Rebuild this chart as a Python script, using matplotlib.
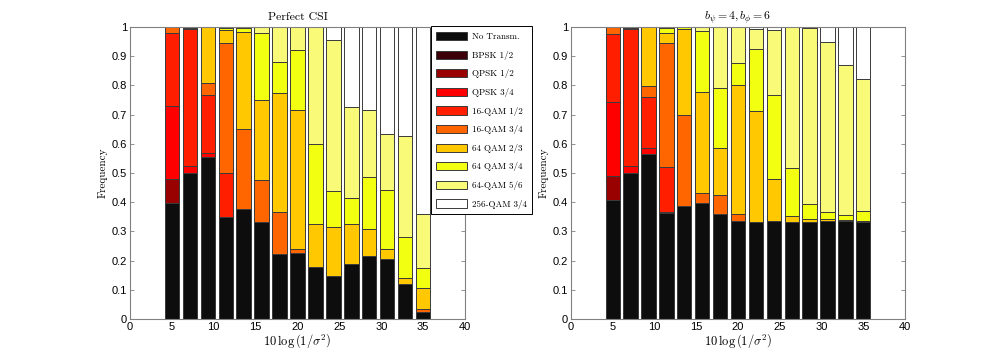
import numpy as np
import matplotlib
matplotlib.use('Agg')
import matplotlib.pyplot as plt
from matplotlib.patches import Patch

# SNR points (dB) and legend
snr = np.linspace(5, 35, 15)
schemes = ['No Transm.', 'BPSK 1/2', 'QPSK 1/2', 'QPSK 3/4', '16-QAM 1/2', '16-QAM 3/4',
           '64 QAM 2/3', '64 QAM 3/4', '64-QAM 5/6', '256-QAM 3/4']
colors = ['#0d0d0d', '#3b0008', '#990000', '#ff0000', '#ff1f00', '#ff6600',
          '#ffc800', '#f2ff10', '#f8fa78', '#ffffff']

# ---- Perfect CSI: fraction of each scheme per SNR point ----
pc_none = [0.398, 0.501, 0.554, 0.350, 0.378, 0.331, 0.223, 0.225, 0.177, 0.148, 0.188, 0.217, 0.205, 0.120, 0.025]
pc_bpsk12 = [0] * 15
pc_qpsk12 = [0.080, 0, 0, 0, 0, 0, 0, 0, 0, 0, 0, 0, 0, 0, 0]
pc_qpsk34 = [0.251, 0.023, 0.016, 0, 0, 0, 0, 0, 0, 0, 0, 0, 0, 0, 0]
pc_16qam12 = [0.249, 0.468, 0.196, 0.151, 0, 0, 0, 0, 0, 0, 0, 0, 0, 0, 0]
pc_16qam34 = [0.022, 0.004, 0.043, 0.445, 0.273, 0.144, 0.142, 0.014, 0, 0, 0, 0, 0, 0, 0.010]
pc_64qam23 = [0, 0.004, 0.191, 0.044, 0.333, 0.274, 0.409, 0.477, 0.148, 0.168, 0.137, 0.090, 0.035, 0.020, 0.070]
pc_64qam34 = [0, 0, 0, 0.006, 0.011, 0.229, 0.105, 0.204, 0.273, 0.123, 0.088, 0.179, 0.200, 0.140, 0.070]
pc_64qam56 = [0, 0, 0, 0.004, 0.005, 0.022, 0.121, 0.080, 0.402, 0.515, 0.312, 0.229, 0.195, 0.345, 0.185]
pc_256qam34 = [0, 0, 0, 0, 0, 0, 0, 0, 0, 0.046, 0.275, 0.285, 0.365, 0.375, 0.640]

# ---- quantized feedback b_psi=4, b_phi=6 ----
qf_none = [0.408, 0.501, 0.566, 0.362, 0.387, 0.396, 0.361, 0.336, 0.332, 0.336, 0.333, 0.333, 0.337, 0.335, 0.332]
qf_bpsk12 = [0] * 15
qf_qpsk12 = [0.083, 0, 0, 0, 0, 0, 0, 0, 0, 0, 0, 0, 0, 0, 0]
qf_qpsk34 = [0.251, 0.024, 0.019, 0.006, 0, 0, 0, 0, 0, 0, 0, 0, 0, 0, 0]
qf_16qam12 = [0.233, 0.467, 0.174, 0.153, 0, 0, 0, 0, 0, 0, 0, 0, 0, 0, 0]
qf_16qam34 = [0.025, 0.004, 0.040, 0.423, 0.311, 0.034, 0.064, 0.024, 0, 0, 0, 0, 0, 0, 0]
qf_64qam23 = [0, 0.004, 0.201, 0.037, 0.294, 0.347, 0.160, 0.440, 0.380, 0.142, 0.021, 0.011, 0.005, 0.003, 0.003]
qf_64qam34 = [0, 0, 0, 0.015, 0.008, 0.210, 0.205, 0.077, 0.213, 0.288, 0.162, 0.050, 0.025, 0.017, 0.034]
qf_64qam56 = [0, 0, 0, 0.004, 0, 0.013, 0.210, 0.123, 0.067, 0.224, 0.484, 0.603, 0.580, 0.516, 0.452]
qf_256qam34 = [0, 0, 0, 0, 0, 0, 0, 0, 0.008, 0.010, 0, 0.003, 0.053, 0.129, 0.179]

perfect = [pc_none, pc_bpsk12, pc_qpsk12, pc_qpsk34, pc_16qam12, pc_16qam34,
           pc_64qam23, pc_64qam34, pc_64qam56, pc_256qam34]
quant = [qf_none, qf_bpsk12, qf_qpsk12, qf_qpsk34, qf_16qam12, qf_16qam34,
         qf_64qam23, qf_64qam34, qf_64qam56, qf_256qam34]

plt.rcParams['mathtext.fontset'] = 'cm'
serif = 'cmr10'
sans = 'Liberation Sans'

fig = plt.figure(figsize=(10, 3.6), dpi=100)
axL = fig.add_axes([0.130, 0.114, 0.335, 0.811])
axR = fig.add_axes([0.571, 0.114, 0.334, 0.811])


def stacked(ax, series, title):
    bottom = np.zeros(len(snr))
    w = 0.8 * (snr[1] - snr[0])
    for vals, col in zip(series, colors):
        vals = np.asarray(vals, float)
        ax.bar(snr, vals, width=w, bottom=bottom, color=col,
               edgecolor='#3a3a3a', linewidth=0.7, zorder=2)
        bottom += vals
    ax.set_xlim(0, 40); ax.set_ylim(0, 1)
    ax.set_xticks(np.arange(0, 41, 5))
    ax.set_yticks(np.linspace(0, 1, 11))
    ax.set_yticklabels(['0', '0.1', '0.2', '0.3', '0.4', '0.5', '0.6', '0.7', '0.8', '0.9', '1'])
    for s in ax.spines.values():
        s.set_color('#808080'); s.set_linewidth(0.8); s.set_zorder(3)
    ax.tick_params(direction='in', length=3, width=0.6, color='#808080',
                   top=True, right=True, labelsize=8, pad=2)
    for lab in ax.get_xticklabels() + ax.get_yticklabels():
        lab.set_fontfamily(sans)
    ax.set_xlabel(r'$10\,\log\left(1/\sigma^2\right)$', fontsize=9, labelpad=1)
    ax.set_ylabel('Frequency', fontsize=8, fontfamily=serif, labelpad=3)
    ax.set_title(title, fontsize=8.5, fontfamily=serif, pad=5)


stacked(axL, perfect, 'Perfect CSI')
stacked(axR, quant, r'$b_\psi = 4, b_\phi = 6$')

handles = [Patch(facecolor=c, edgecolor='#3a3a3a', linewidth=0.7) for c in colors]
leg = fig.legend(handles, schemes, loc='upper left', bbox_to_anchor=(0.426, 0.94),
                 bbox_transform=fig.transFigure, prop={'family': serif, 'size': 6.5},
                 handlelength=3.4, handleheight=1.0, labelspacing=1.05, handletextpad=0.5,
                 borderpad=0.65, fancybox=False, framealpha=1, edgecolor='k')
leg.get_frame().set_linewidth(0.7)

fig.savefig('out.png', dpi=100)
plt.close(fig)
